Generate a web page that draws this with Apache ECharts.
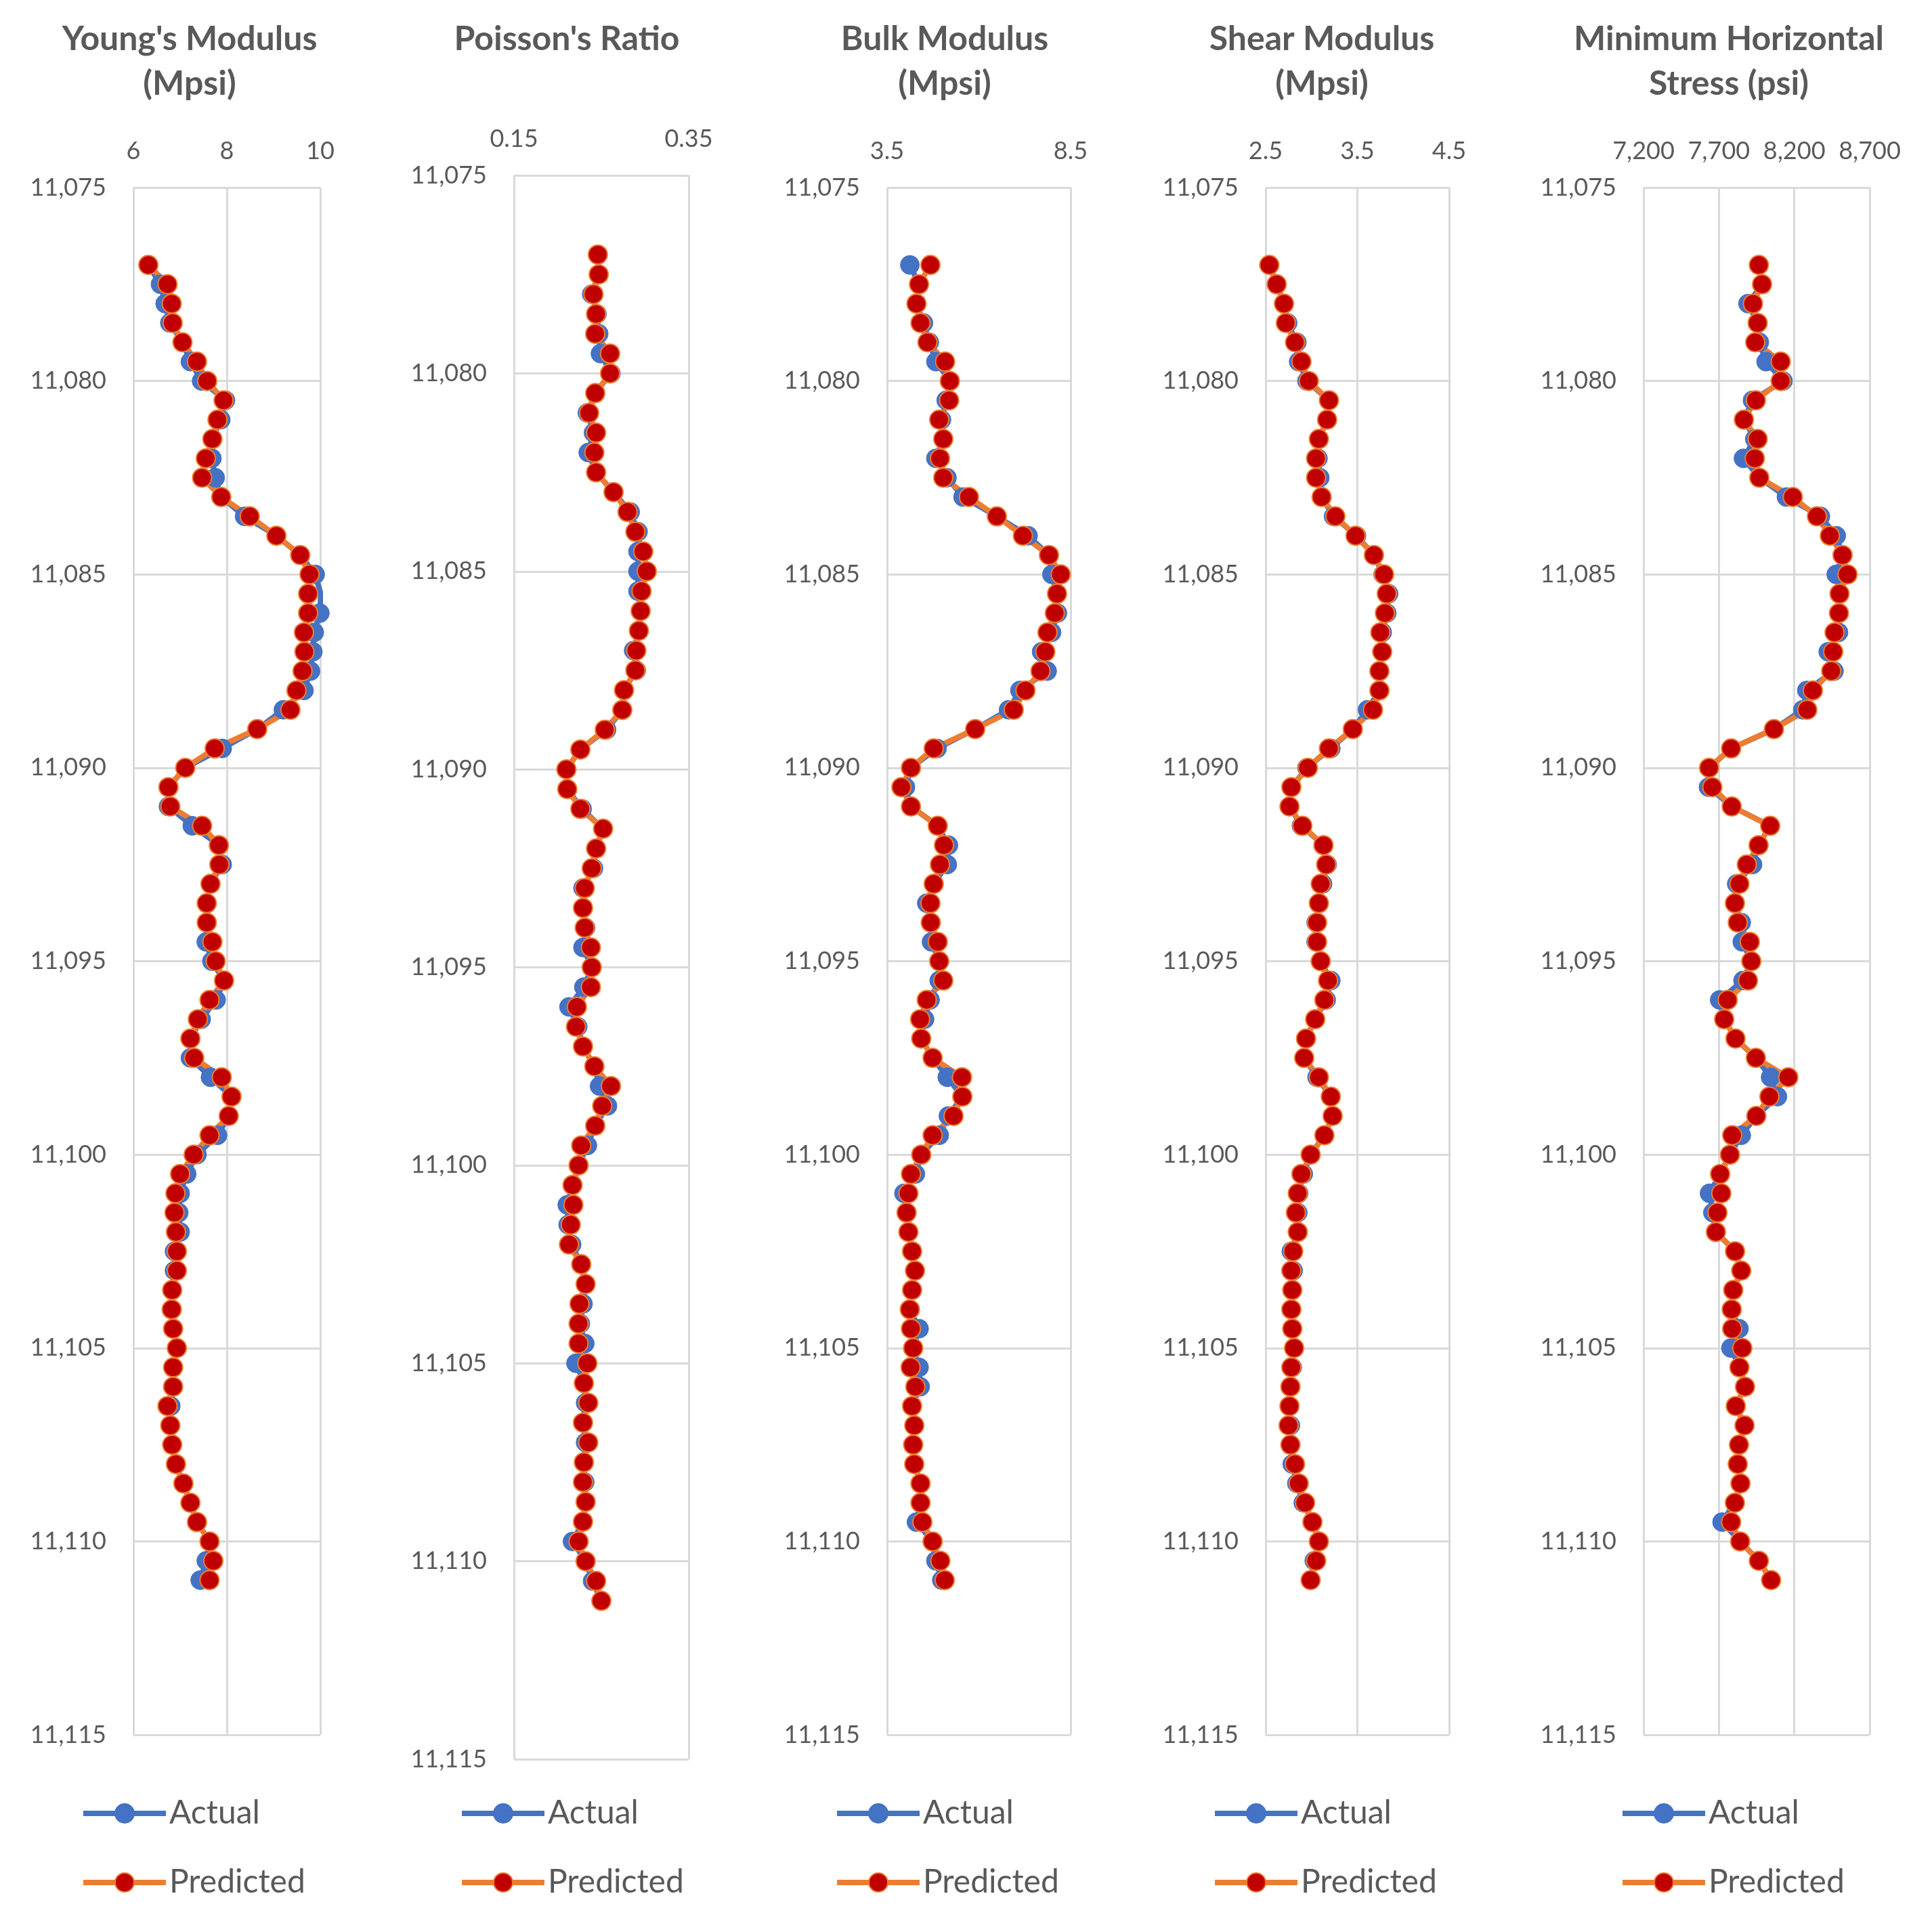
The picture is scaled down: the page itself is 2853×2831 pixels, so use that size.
<!DOCTYPE html>
<html>
<head>
<meta charset="utf-8">
<script src="https://cdn.jsdelivr.net/npm/echarts@6/dist/echarts.min.js"></script>
<style>
  html, body { margin: 0; padding: 0; background: #fff; }
  #chart { width: 2853px; height: 2831px; }
</style>
</head>
<body>
<div id="chart"></div>
<script>
// depth in ft (11,077 to 11,111 every half foot)
const depth = [
  11077, 11077.5, 11078, 11078.5, 11079, 11079.5, 11080, 11080.5, 11081, 11081.5,
  11082, 11082.5, 11083, 11083.5, 11084, 11084.5, 11085, 11085.5, 11086, 11086.5,
  11087, 11087.5, 11088, 11088.5, 11089, 11089.5, 11090, 11090.5, 11091, 11091.5,
  11092, 11092.5, 11093, 11093.5, 11094, 11094.5, 11095, 11095.5, 11096, 11096.5,
  11097, 11097.5, 11098, 11098.5, 11099, 11099.5, 11100, 11100.5, 11101, 11101.5,
  11102, 11102.5, 11103, 11103.5, 11104, 11104.5, 11105, 11105.5, 11106, 11106.5,
  11107, 11107.5, 11108, 11108.5, 11109, 11109.5, 11110, 11110.5, 11111
];

const youngActual = [
  6.32, 6.58, 6.68, 6.78, 7.05, 7.22, 7.46, 7.97, 7.87, 7.69,
  7.68, 7.75, 7.88, 8.38, 9.06, 9.57, 9.89, 10.01, 9.99, 9.87,
  9.84, 9.79, 9.65, 9.21, 8.65, 7.90, 7.11, 6.75, 6.75, 7.26,
  7.83, 7.90, 7.65, 7.57, 7.57, 7.56, 7.68, 7.94, 7.77, 7.45,
  7.22, 7.22, 7.65, 8.10, 8.04, 7.80, 7.36, 7.14, 7.00, 6.97,
  7.00, 6.88, 6.88, 6.83, 6.82, 6.85, 6.93, 6.85, 6.85, 6.80,
  6.79, 6.83, 6.91, 7.07, 7.22, 7.36, 7.63, 7.56, 7.43
];
const youngPredicted = [
  6.32, 6.73, 6.82, 6.84, 7.05, 7.36, 7.58, 7.93, 7.80, 7.69,
  7.55, 7.47, 7.88, 8.49, 9.06, 9.57, 9.77, 9.74, 9.74, 9.65,
  9.66, 9.62, 9.49, 9.36, 8.65, 7.74, 7.11, 6.75, 6.79, 7.47,
  7.83, 7.84, 7.65, 7.57, 7.57, 7.69, 7.76, 7.94, 7.63, 7.38,
  7.22, 7.30, 7.89, 8.10, 8.04, 7.63, 7.29, 7.00, 6.90, 6.88,
  6.91, 6.93, 6.93, 6.83, 6.82, 6.85, 6.93, 6.85, 6.85, 6.73,
  6.79, 6.83, 6.91, 7.07, 7.22, 7.36, 7.63, 7.71, 7.63
];

const poissonActual = [
  0.246, 0.247, 0.239, 0.245, 0.247, 0.249, 0.261, 0.243, 0.234, 0.241,
  0.235, 0.244, 0.264, 0.283, 0.292, 0.292, 0.292, 0.292, 0.295, 0.293,
  0.287, 0.290, 0.276, 0.274, 0.256, 0.226, 0.210, 0.211, 0.228, 0.252,
  0.244, 0.241, 0.229, 0.229, 0.232, 0.229, 0.239, 0.230, 0.213, 0.223,
  0.229, 0.242, 0.248, 0.257, 0.243, 0.234, 0.224, 0.217, 0.211, 0.212,
  0.216, 0.227, 0.232, 0.229, 0.226, 0.231, 0.221, 0.230, 0.232, 0.229,
  0.232, 0.230, 0.231, 0.232, 0.229, 0.217, 0.232, 0.240, 0.250
];
const poissonPredicted = [
  0.246, 0.247, 0.241, 0.244, 0.243, 0.260, 0.260, 0.243, 0.236, 0.244,
  0.242, 0.244, 0.264, 0.280, 0.289, 0.298, 0.302, 0.296, 0.295, 0.293,
  0.290, 0.289, 0.276, 0.274, 0.254, 0.226, 0.210, 0.211, 0.226, 0.252,
  0.244, 0.239, 0.231, 0.229, 0.231, 0.238, 0.239, 0.238, 0.222, 0.221,
  0.229, 0.242, 0.261, 0.251, 0.243, 0.227, 0.224, 0.217, 0.218, 0.215,
  0.213, 0.227, 0.232, 0.225, 0.224, 0.224, 0.234, 0.230, 0.235, 0.229,
  0.235, 0.230, 0.229, 0.232, 0.229, 0.224, 0.232, 0.244, 0.250
];

const bulkActual = [
  4.12, 4.37, 4.30, 4.49, 4.65, 4.83, 5.21, 5.11, 4.98, 5.03,
  4.83, 5.13, 5.57, 6.49, 7.34, 7.91, 7.99, 8.13, 8.14, 7.98,
  7.71, 7.86, 7.12, 6.81, 5.90, 4.86, 4.15, 4.00, 4.15, 4.88,
  5.17, 5.14, 4.77, 4.58, 4.69, 4.71, 4.92, 4.92, 4.67, 4.52,
  4.43, 4.74, 5.14, 5.55, 5.17, 4.92, 4.43, 4.27, 3.96, 4.03,
  4.08, 4.18, 4.26, 4.18, 4.12, 4.37, 4.21, 4.37, 4.40, 4.18,
  4.24, 4.21, 4.24, 4.41, 4.41, 4.30, 4.74, 4.83, 4.99
];
const bulkPredicted = [
  4.68, 4.37, 4.30, 4.41, 4.60, 5.08, 5.21, 5.19, 4.92, 5.03,
  4.94, 5.03, 5.73, 6.49, 7.20, 7.91, 8.23, 8.13, 8.07, 7.87,
  7.81, 7.68, 7.27, 6.95, 5.90, 4.77, 4.15, 3.89, 4.15, 4.88,
  5.05, 4.94, 4.77, 4.68, 4.69, 4.88, 4.92, 5.03, 4.58, 4.40,
  4.43, 4.74, 5.54, 5.55, 5.31, 4.74, 4.43, 4.15, 4.08, 4.03,
  4.08, 4.18, 4.26, 4.18, 4.12, 4.15, 4.21, 4.14, 4.27, 4.18,
  4.24, 4.21, 4.24, 4.41, 4.41, 4.46, 4.74, 4.95, 5.07
];

const shearActual = [
  2.54, 2.62, 2.70, 2.74, 2.84, 2.86, 2.95, 3.19, 3.17, 3.08,
  3.07, 3.09, 3.11, 3.24, 3.49, 3.68, 3.78, 3.84, 3.82, 3.77,
  3.77, 3.74, 3.74, 3.61, 3.45, 3.21, 2.95, 2.78, 2.76, 2.89,
  3.13, 3.17, 3.12, 3.08, 3.05, 3.05, 3.10, 3.21, 3.16, 3.04,
  2.94, 2.92, 3.06, 3.21, 3.23, 3.14, 2.99, 2.91, 2.86, 2.85,
  2.85, 2.78, 2.80, 2.79, 2.78, 2.79, 2.81, 2.79, 2.77, 2.76,
  2.77, 2.77, 2.79, 2.84, 2.91, 3.01, 3.08, 3.03, 2.99
];
const shearPredicted = [
  2.54, 2.62, 2.70, 2.72, 2.82, 2.89, 2.97, 3.19, 3.17, 3.08,
  3.05, 3.05, 3.11, 3.26, 3.48, 3.68, 3.79, 3.82, 3.80, 3.75,
  3.77, 3.74, 3.74, 3.67, 3.45, 3.19, 2.96, 2.78, 2.76, 2.90,
  3.13, 3.16, 3.10, 3.08, 3.06, 3.06, 3.10, 3.18, 3.14, 3.04,
  2.94, 2.92, 3.08, 3.21, 3.23, 3.14, 2.99, 2.89, 2.85, 2.83,
  2.85, 2.80, 2.78, 2.79, 2.78, 2.79, 2.81, 2.78, 2.77, 2.76,
  2.75, 2.77, 2.82, 2.86, 2.93, 3.01, 3.08, 3.05, 2.99
];

const stressActual = [
  7965, 7986, 7893, 7957, 7968, 8013, 8125, 7923, 7866, 7938,
  7863, 7968, 8148, 8373, 8478, 8520, 8478, 8500, 8496, 8493,
  8425, 8463, 8283, 8256, 8065, 7781, 7635, 7631, 7785, 8040,
  7963, 7923, 7818, 7806, 7848, 7855, 7915, 7860, 7705, 7735,
  7810, 7945, 8043, 8088, 7948, 7848, 7773, 7708, 7638, 7660,
  7680, 7807, 7848, 7795, 7785, 7833, 7780, 7836, 7873, 7812,
  7870, 7833, 7825, 7843, 7806, 7721, 7841, 7965, 8046
];
const stressPredicted = [
  7965, 7986, 7926, 7957, 7941, 8110, 8110, 7945, 7866, 7957,
  7938, 7968, 8190, 8350, 8436, 8520, 8553, 8500, 8496, 8467,
  8458, 8445, 8323, 8286, 8065, 7781, 7635, 7656, 7785, 8040,
  7963, 7885, 7836, 7806, 7825, 7905, 7915, 7893, 7758, 7735,
  7810, 7945, 8160, 8035, 7948, 7788, 7773, 7708, 7716, 7690,
  7680, 7807, 7848, 7795, 7785, 7788, 7855, 7836, 7873, 7812,
  7870, 7833, 7825, 7843, 7806, 7781, 7841, 7965, 8046
];

const seriesNames = ['Actual', 'Predicted'];

// one entry per track: title, x scale and where it sits on the page
const panels = [
  { title: "Young's Modulus\n(Mpsi)", titleX: 280, min: 6, max: 10, interval: 2,
    grid: { left: 197, top: 277, width: 276, height: 2285 }, legendLeft: 114,
    actual: youngActual, predicted: youngPredicted },
  { title: "Poisson's Ratio", titleX: 837, min: 0.15, max: 0.35, interval: 0.2,
    grid: { left: 759, top: 259, width: 258, height: 2339 }, legendLeft: 673,
    actual: poissonActual, predicted: poissonPredicted },
  { title: "Bulk Modulus\n(Mpsi)", titleX: 1395, min: 3.5, max: 8.5, interval: 5,
    grid: { left: 1310, top: 277, width: 271, height: 2285 }, legendLeft: 1227,
    actual: bulkActual, predicted: bulkPredicted },
  { title: "Shear Modulus\n(Mpsi)", titleX: 1952, min: 2.5, max: 4.5, interval: 1,
    grid: { left: 1869, top: 277, width: 271, height: 2285 }, legendLeft: 1785,
    actual: shearActual, predicted: shearPredicted },
  { title: "Minimum Horizontal\nStress (psi)", titleX: 2553, min: 7200, max: 8700, interval: 500,
    grid: { left: 2427, top: 277, width: 334, height: 2285 }, legendLeft: 2387,
    actual: stressActual, predicted: stressPredicted }
];

const font = 'Lato, "Open Sans", sans-serif';
const grey = '#595959';
const gridLine = { show: true, lineStyle: { color: '#D9D9D9', width: 3 } };
const fmt = v => Number(v).toLocaleString('en-US', { maximumFractionDigits: 2 });

const chart = echarts.init(document.getElementById('chart'));

const option = {
  animation: false,
  backgroundColor: '#fff',
  textStyle: { fontFamily: font },
  grid: [],
  xAxis: [],
  yAxis: [],
  legend: [],
  series: [],
  graphic: []
};

panels.forEach((p, k) => {
  option.grid.push(Object.assign({ containLabel: false }, p.grid));
  option.xAxis.push({
    type: 'value', gridIndex: k, position: 'top',
    min: p.min, max: p.max, interval: p.interval,
    axisLine: { show: false }, axisTick: { show: false },
    splitLine: gridLine,
    axisLabel: { fontSize: 36, color: grey, fontFamily: font, margin: 36, formatter: fmt }
  });
  option.yAxis.push({
    type: 'value', gridIndex: k, inverse: true,
    min: 11075, max: 11115, interval: 5,
    axisLine: { show: false }, axisTick: { show: false },
    splitLine: gridLine,
    axisLabel: { fontSize: 36, color: grey, fontFamily: font, margin: 40, formatter: fmt }
  });
  option.series.push({
    name: 'Actual', type: 'line', xAxisIndex: k, yAxisIndex: k,
    data: depth.map((d, i) => [p.actual[i], d]),
    symbol: 'circle', symbolSize: 28,
    lineStyle: { color: '#4472C4', width: 8 },
    itemStyle: { color: '#4472C4', borderColor: '#4472C4', borderWidth: 1 }
  });
  option.series.push({
    name: 'Predicted', type: 'line', xAxisIndex: k, yAxisIndex: k,
    data: depth.map((d, i) => [p.predicted[i], d]),
    symbol: 'circle', symbolSize: 28,
    lineStyle: { color: '#ED7D31', width: 8 },
    itemStyle: { color: '#C00000', borderColor: '#ED7D31', borderWidth: 2 }
  });
  option.legend.push({
    data: seriesNames, orient: 'vertical',
    left: p.legendLeft, top: 2649,
    itemWidth: 122, itemHeight: 35, itemGap: 54,
    lineStyle: { width: 8 },
    textStyle: { fontSize: 48, color: grey, fontFamily: font }
  });
  option.graphic.push({
    type: 'text', x: p.titleX, y: 25,
    style: {
      text: p.title, textAlign: 'center', textVerticalAlign: 'top',
      fontSize: 50, fontWeight: 'bold', fontFamily: font, fill: grey, lineHeight: 66
    }
  });
});

chart.setOption(option);
</script>
</body>
</html>
